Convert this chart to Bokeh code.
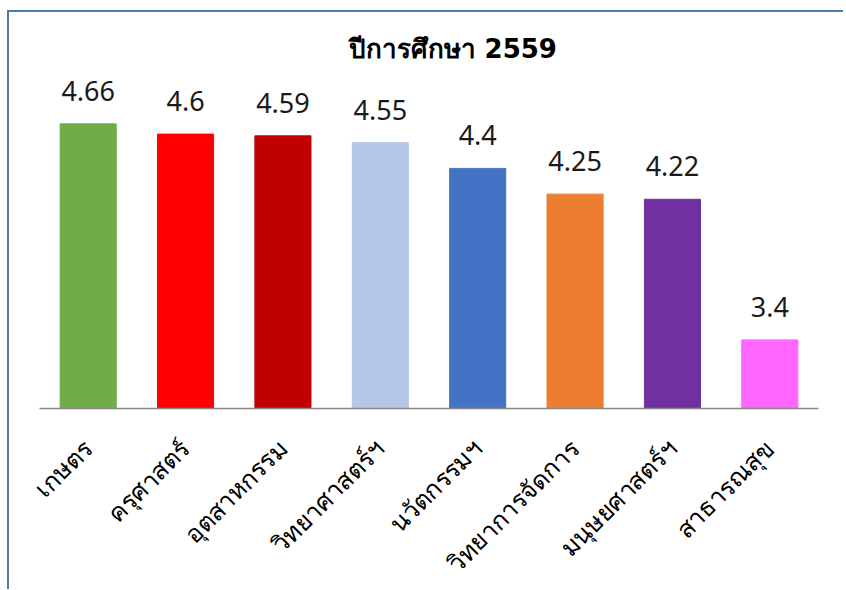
from bokeh.plotting import figure
from bokeh.models import ColumnDataSource, FactorRange, Range1d
from bokeh.core.properties import value
from bokeh.embed import file_html
from bokeh.resources import INLINE

categories = ["เกษตร", "ครุศาสตร์", "อุตสาหกรรม", "วิทยาศาสตร์ฯ", "นวัตกรรมฯ",
              "วิทยาการจัดการ", "มนุษยศาสตร์ฯ", "สาธารณสุข"]
scores = [4.66, 4.6, 4.59, 4.55, 4.4, 4.25, 4.22, 3.4]
labels = ["4.66", "4.6", "4.59", "4.55", "4.4", "4.25", "4.22", "3.4"]
colors = ["#70AD47", "#FF0000", "#C00000", "#B4C7E7", "#4472C4", "#ED7D31",
          "#7030A0", "#FF66FF"]
title_text = "ปีการศึกษา 2559"
y_min, y_max = 3.0, 5.0

src = ColumnDataSource(dict(cat=categories, val=scores, lab=labels, col=colors))

p = figure(x_range=FactorRange(*categories), y_range=Range1d(y_min, y_max),
           width=836, height=579, output_backend="svg", toolbar_location=None,
           min_border_left=30, min_border_right=27, min_border_top=53,
           min_border_bottom=180,
           styles={"border-top": "2px solid #4a7ab0", "border-left": "2px solid #4a7ab0",
                   "margin-top": "10px", "margin-left": "7px"})

p.vbar(x="cat", top="val", bottom=y_min, width=0.576, color="col", source=src)
p.text(x="cat", y="val", text="lab", source=src, text_align="center",
       text_baseline="alphabetic", y_offset=-33, text_font_size="27px",
       text_font=value("Noto Sans"), text_color="#1a1a1a")

p.title.text = title_text
p.title.align = "left"
p.title.offset = 309
p.title.standoff = 4
p.title.text_font_size = "26px"
p.title.text_font = "DejaVu Sans"
p.title.text_font_style = "bold"
p.title.text_color = "#000000"

p.yaxis.visible = False
p.xgrid.grid_line_color = None
p.ygrid.grid_line_color = None
p.outline_line_color = None

ax = p.xaxis[0]
ax.axis_line_color = "#868686"
ax.axis_line_width = 1.5
ax.major_tick_line_color = None
ax.minor_tick_line_color = None
ax.major_label_orientation = 0.785398
ax.major_label_text_font_size = "25px"
ax.major_label_text_font = "DejaVu Sans"
ax.major_label_text_color = "#000000"
ax.major_label_standoff = 30

open("out.html", "w").write(file_html(p, INLINE))
